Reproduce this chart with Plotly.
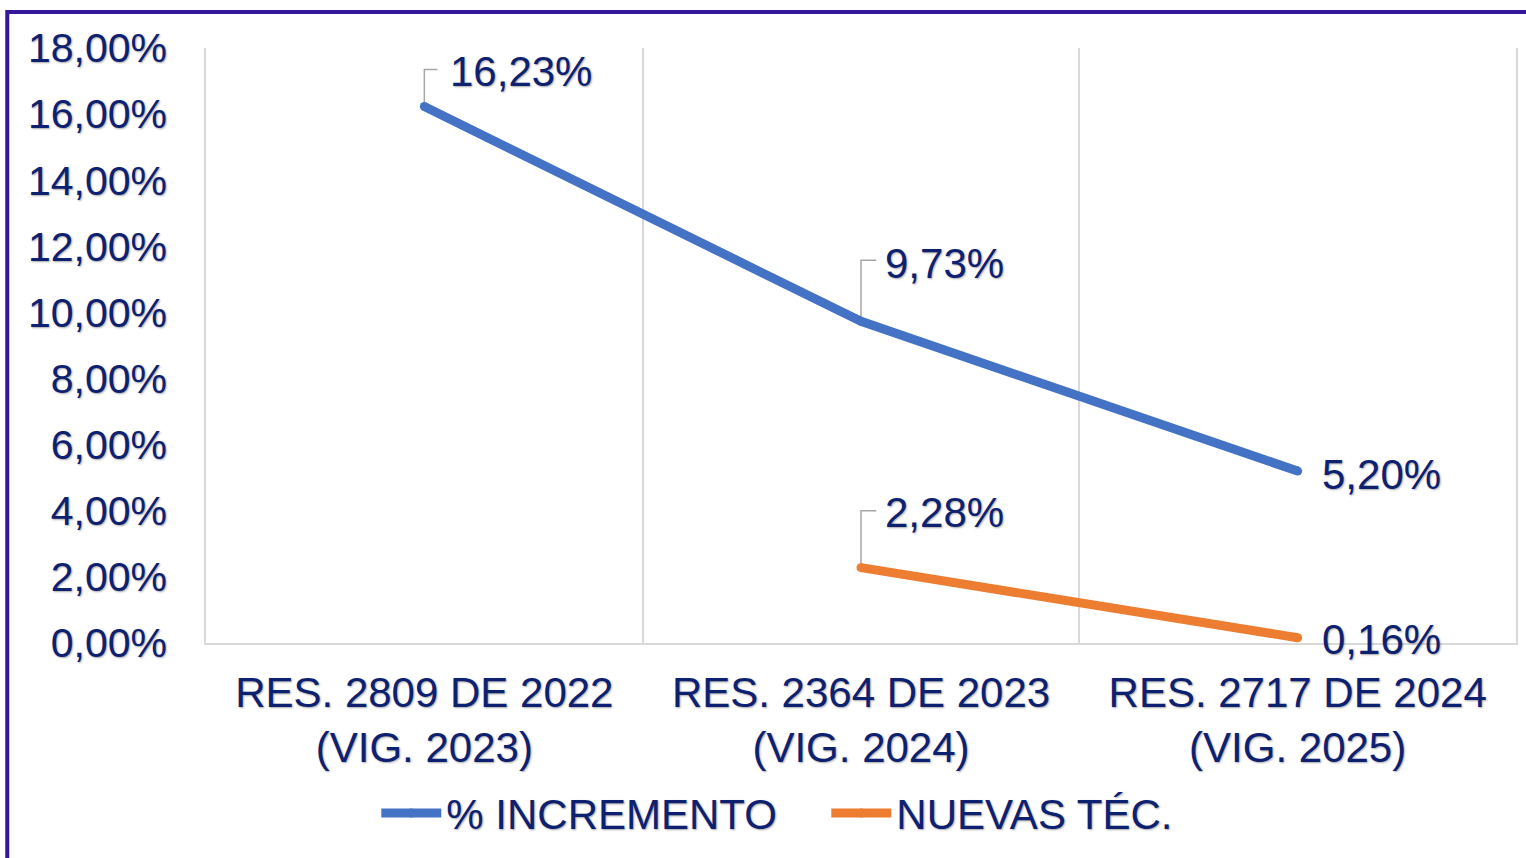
import plotly.graph_objects as go

categories = ["RES. 2809 DE 2022<br>(VIG. 2023)",
              "RES. 2364 DE 2023<br>(VIG. 2024)",
              "RES. 2717 DE 2024<br>(VIG. 2025)"]
incremento = [16.23, 9.73, 5.20]
nuevas_tec = [None, 2.28, 0.16]
y_ticks = [0, 2, 4, 6, 8, 10, 12, 14, 16, 18]
y_tick_labels = ["0,00%", "2,00%", "4,00%", "6,00%", "8,00%", "10,00%",
                 "12,00%", "14,00%", "16,00%", "18,00%"]

FONT = "Liberation Sans, Arial, sans-serif"
TXT = "#0d2170"
SHADOW = "1px 1px 2px rgba(0,0,0,0.35)"
BLUE = "#4472C4"
ORANGE = "#ED7D31"
GRID = "#d9d9d9"
FRAME = "#34179b"

def fmt(v):
    return f"{v:.2f}".replace(".", ",") + "%"

x_idx = list(range(len(categories)))

fig = go.Figure()

# label styles: (series, index) -> (xshift, yshift, leader_dy, leader_dx)
label_style = {
    ("inc", 0): (24, 35, 1.12, 0.03),
    ("inc", 1): (22, 58, 1.85, 0.035),
    ("inc", 2): (22, -3, None, None),
    ("nue", 1): (22, 55, 1.72, 0.035),
    ("nue", 2): (22, -2, None, None),
}

series = [("inc", "% INCREMENTO", incremento, BLUE),
          ("nue", "NUEVAS TÉC.", nuevas_tec, ORANGE)]

for key, name, vals, col in series:
    for i, v in zip(x_idx, vals):
        if v is None:
            continue
        xs, ys, dy, dx = label_style[(key, i)]
        if dy is not None:
            fig.add_trace(go.Scatter(
                x=[i, i, i + dx], y=[v, v + dy, v + dy], mode="lines",
                line=dict(color="#a6a6a6", width=1.5),
                showlegend=False, hoverinfo="skip"))

for key, name, vals, col in series:
    fig.add_trace(go.Scatter(
        x=x_idx, y=vals, name=name, mode="lines+markers",
        line=dict(color=col, width=9),
        marker=dict(color=col, size=9),
        connectgaps=False))

for key, name, vals, col in series:
    for i, v in zip(x_idx, vals):
        if v is None:
            continue
        xs, ys, dy, dx = label_style[(key, i)]
        fig.add_annotation(
            x=i, y=v, text=fmt(v), showarrow=False,
            xanchor="left", yanchor="middle", xshift=xs, yshift=ys,
            font=dict(family=FONT, size=42, color=TXT, shadow=SHADOW))

# outer frame (top and left)
fig.add_shape(type="path", xref="paper", yref="paper",
              path="M -0.1517,-0.37 L -0.1517,1.0605 L 1.01,1.0605",
              line=dict(color=FRAME, width=4))

fig.update_layout(
    width=1526, height=858,
    margin=dict(l=206, r=8, t=48, b=215),
    paper_bgcolor="white", plot_bgcolor="white",
    showlegend=True,
    legend=dict(orientation="h", x=0.13, xanchor="left", y=-0.286,
                yanchor="middle",
                font=dict(family=FONT, size=42, color=TXT, shadow=SHADOW),
                itemwidth=60, entrywidth=375, tracegroupgap=0),
    xaxis=dict(range=[-0.5, 2.5], tickvals=x_idx, ticktext=categories,
               showgrid=False, zeroline=False,
               showline=True, linecolor=GRID, linewidth=1.5,
               ticks="", ticklabelstandoff=12,
               tickfont=dict(family=FONT, size=42, color=TXT, shadow=SHADOW),
               minor=dict(tickvals=[-0.5, 0.5, 1.5, 2.5], showgrid=True,
                          gridcolor=GRID, gridwidth=1.5, ticks=""),
               fixedrange=True),
    yaxis=dict(range=[0, 18], tickvals=y_ticks, ticktext=y_tick_labels,
               showgrid=False, zeroline=False,
               showline=True, linecolor=GRID, linewidth=1.5, mirror=True,
               ticks="", ticklabelstandoff=29,
               tickfont=dict(family=FONT, size=41, color=TXT, shadow=SHADOW),
               fixedrange=True),
)

fig.write_html("out.html", config={"displayModeBar": False},
               post_script="document.body.style.margin='0';"
                           "document.body.style.overflow='hidden';")
